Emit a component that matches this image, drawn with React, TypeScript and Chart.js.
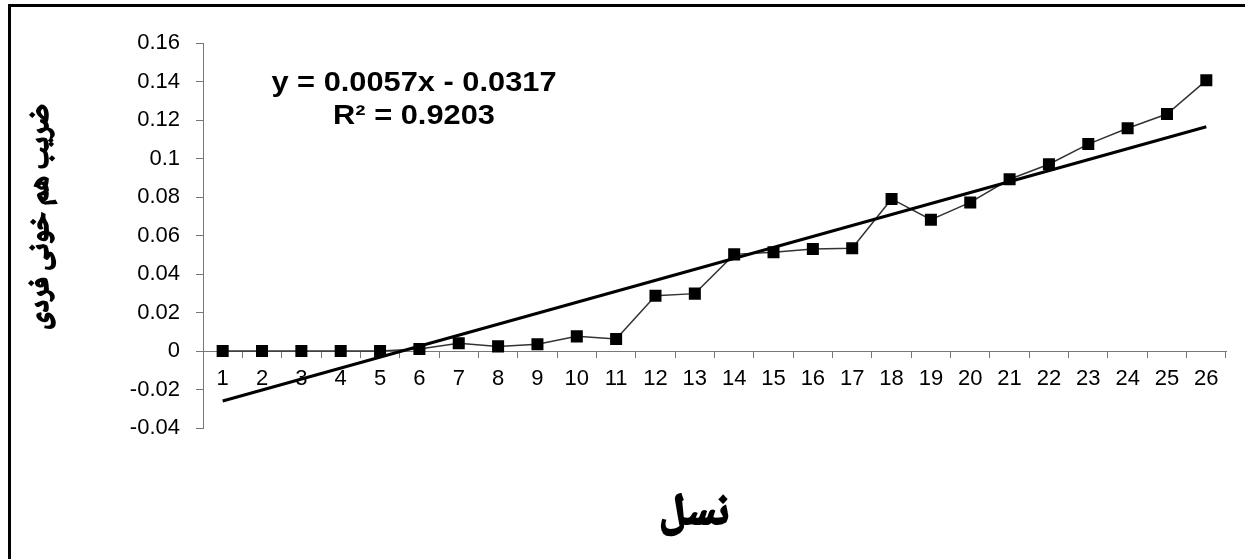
import React, { useEffect, useRef } from "react";
import { Chart, registerables } from "chart.js";

Chart.register(...registerables);

const generations = [
  "1", "2", "3", "4", "5", "6", "7", "8", "9", "10", "11", "12", "13",
  "14", "15", "16", "17", "18", "19", "20", "21", "22", "23", "24", "25", "26",
];

const inbreeding = [
  0, 0, 0, 0, 0, 0.001, 0.004, 0.0024, 0.0035, 0.0076, 0.0062, 0.0287, 0.0298,
  0.0502, 0.0513, 0.053, 0.0534, 0.079, 0.0682, 0.0772, 0.0892, 0.097, 0.1075,
  0.1157, 0.1231, 0.1406,
];

// Linear trendline end points (at generation 1 and 26)
const trendStart = -0.026;
const trendEnd = 0.1165;

const yMin = -0.04;
const yMax = 0.16;
const yStep = 0.02;

const equationLines = ["y = 0.0057x - 0.0317", "R² = 0.9203"];
const yTitle = "ضریب هم خونی فردی";
const xTitle = "نسل";

const LATIN = '"Liberation Sans", Arial, sans-serif';
const ARABIC = '"Noto Naskh Arabic", "Noto Sans Arabic", "DejaVu Sans", serif';

const trendData: (number | null)[] = generations.map((_, i) =>
  i === 0 ? trendStart : i === generations.length - 1 ? trendEnd : null
);

const extrasPlugin = {
  id: "extras",
  afterDraw(chart: any) {
    const ctx = chart.ctx as CanvasRenderingContext2D;
    ctx.save();
    ctx.fillStyle = "#000";
    ctx.strokeStyle = "#000";
    // outer frame (top and left edges visible)
    ctx.fillRect(8, 4, 3, 600);
    ctx.fillRect(8, 4, 1300, 3);

    // trendline equation
    ctx.font = `bold 28px ${LATIN}`;
    ctx.textAlign = "center";
    ctx.textBaseline = "middle";
    ctx.save();
    ctx.translate(414, 83);
    ctx.scale(1.1, 1);
    ctx.fillText(equationLines[0], 0, 0);
    ctx.restore();
    ctx.save();
    ctx.translate(414, 116);
    ctx.scale(1.1, 1);
    ctx.fillText(equationLines[1], 0, 0);
    ctx.restore();

    // y axis title (rotated)
    ctx.save();
    ctx.translate(44, 217);
    ctx.rotate(-Math.PI / 2);
    ctx.font = `bold 28px ${ARABIC}`;
    ctx.lineWidth = 1.6;
    ctx.fillText(yTitle, 0, 0);
    ctx.strokeText(yTitle, 0, 0);
    ctx.restore();

    // x axis title
    ctx.font = `bold 44px ${ARABIC}`;
    ctx.lineWidth = 2.2;
    ctx.fillText(xTitle, 694, 518);
    ctx.strokeText(xTitle, 694, 518);
    ctx.restore();
  },
};

export default function App() {
  const canvasRef = useRef<HTMLCanvasElement | null>(null);

  useEffect(() => {
    if (!canvasRef.current) return;
    const chart = new Chart(canvasRef.current, {
      type: "line",
      data: {
        labels: generations,
        datasets: [
          {
            label: "trend",
            data: trendData,
            borderColor: "#000",
            borderWidth: 3,
            pointRadius: 0,
            spanGaps: true,
            fill: false,
            order: 1,
          },
          {
            label: "F",
            data: inbreeding,
            borderColor: "#333",
            borderWidth: 1.5,
            pointStyle: "rect",
            pointRadius: 8.5,
            pointBackgroundColor: "#000",
            pointBorderColor: "#000",
            pointBorderWidth: 0,
            fill: false,
            order: 2,
          },
        ],
      },
      options: {
        responsive: false,
        animation: false,
        events: [],
        layout: { padding: { left: 0, right: 19, top: 43, bottom: 131 } },
        plugins: {
          legend: { display: false },
          tooltip: { enabled: false },
        },
        scales: {
          x: {
            type: "category",
            position: { y: 0 } as any,
            offset: true,
            grid: {
              offset: true,
              drawOnChartArea: false,
              drawTicks: true,
              tickLength: 6,
              color: "#777",
            },
            border: { color: "#777", width: 1 },
            ticks: {
              color: "#000",
              padding: 9,
              maxRotation: 0,
              autoSkip: false,
              font: { family: LATIN, size: 22 },
            },
          },
          y: {
            type: "linear",
            position: "left",
            min: yMin,
            max: yMax,
            afterFit: (scale: any) => {
              scale.width = 203;
            },
            grid: {
              drawOnChartArea: false,
              drawTicks: true,
              tickLength: 7,
              color: "#777",
            },
            border: { color: "#777", width: 1 },
            ticks: {
              stepSize: yStep,
              color: "#000",
              padding: 16,
              font: { family: LATIN, size: 22 },
              callback: (v: any) => String(Number(Number(v).toFixed(2))),
            },
          },
        },
      },
      plugins: [extrasPlugin],
    });
    return () => chart.destroy();
  }, []);

  return (
    <div style={{ position: "fixed", left: 0, top: 0, width: 1245, height: 559, background: "#fff" }}>
      <canvas ref={canvasRef} width={1245} height={559} style={{ display: "block", width: 1245, height: 559 }} />
    </div>
  );
}
